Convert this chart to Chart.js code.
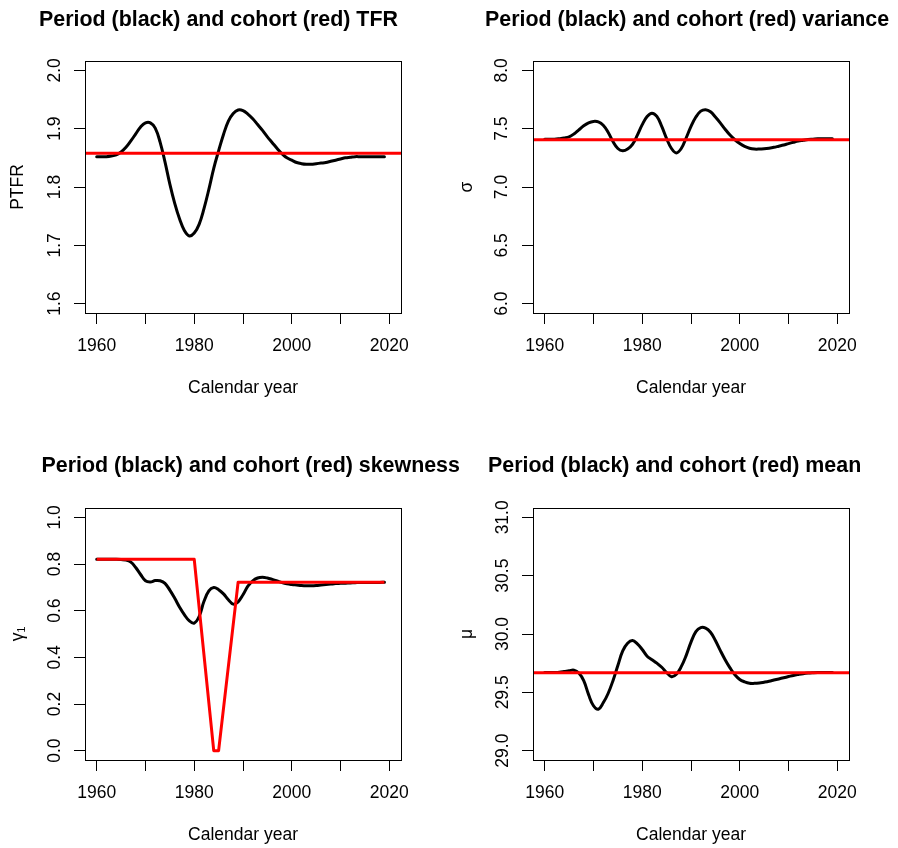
<!DOCTYPE html>
<html>
<head>
<meta charset="utf-8">
<script src="https://cdn.jsdelivr.net/npm/chart.js@4.4.1/dist/chart.umd.min.js"></script>
<style>
  html, body { margin: 0; padding: 0; background: #fff; overflow: hidden; }
  #fig { position: relative; width: 898px; height: 848px; }
  #fig canvas { position: absolute; }
  .main {
    position: absolute;
    font: bold 21.4px "Liberation Sans", Arial, Helvetica, sans-serif;
    line-height: 1;
    white-space: nowrap;
    color: #000;
  }
</style>
</head>
<body>
<div id="fig">
  <canvas id="tfr" width="449" height="424" style="left:0;top:0"></canvas>
  <canvas id="variance" width="449" height="424" style="left:449px;top:0"></canvas>
  <canvas id="skewness" width="449" height="424" style="left:0;top:424px"></canvas>
  <canvas id="mean" width="449" height="424" style="left:449px;top:424px"></canvas>
  <div class="main" style="left:39px;top:8.5px">Period (black) and cohort (red) TFR</div>
  <div class="main" style="left:485px;top:8.5px">Period (black) and cohort (red) variance</div>
  <div class="main" style="left:41.5px;top:455px">Period (black) and cohort (red) skewness</div>
  <div class="main" style="left:488px;top:455px">Period (black) and cohort (red) mean</div>
</div>
<script>
// calendar years of the period series
const YEARS = Array.from({ length: 60 }, (_, i) => 1960 + i);

const X_TICKS = [1960, 1970, 1980, 1990, 2000, 2010, 2020];
const X_LABELS = [1960, 1980, 2000, 2020];

// period TFR
const TFR_PERIOD = [
  1.852, 1.852, 1.852, 1.853, 1.855, 1.860, 1.868, 1.879, 1.891, 1.903,
  1.910, 1.910, 1.901, 1.877, 1.843, 1.805, 1.772, 1.745, 1.725, 1.716,
  1.721, 1.736, 1.763, 1.796, 1.832, 1.862, 1.890, 1.913, 1.926, 1.932,
  1.931, 1.925, 1.917, 1.907, 1.897, 1.886, 1.876, 1.866, 1.857, 1.850,
  1.846, 1.842, 1.840, 1.839, 1.839, 1.840, 1.841, 1.842, 1.844, 1.846,
  1.848, 1.850, 1.851, 1.852, 1.852, 1.852, 1.852, 1.852, 1.852, 1.852
];
const TFR_COHORT = 1.858;
const TFR_TICKS = [1.6, 1.7, 1.8, 1.9, 2.0];

// period sigma
const VAR_PERIOD = [
  7.410, 7.410, 7.410, 7.414, 7.420, 7.430, 7.455, 7.490, 7.525, 7.550,
  7.562, 7.558, 7.530, 7.470, 7.390, 7.330, 7.310, 7.325, 7.365, 7.445,
  7.535, 7.605, 7.633, 7.605, 7.520, 7.415, 7.330, 7.292, 7.330, 7.420,
  7.520, 7.600, 7.650, 7.663, 7.645, 7.600, 7.550, 7.495, 7.445, 7.405,
  7.373, 7.348, 7.332, 7.325, 7.325, 7.328, 7.333, 7.340, 7.350, 7.360,
  7.372, 7.383, 7.393, 7.400, 7.407, 7.410, 7.413, 7.414, 7.414, 7.414
];
const VAR_COHORT = 7.405;
const VAR_TICKS = [6.0, 6.5, 7.0, 7.5, 8.0];

// period skewness and the cohort skewness break points
const SKEW_PERIOD = [
  0.820, 0.820, 0.820, 0.820, 0.820, 0.819, 0.817, 0.808, 0.785, 0.755,
  0.728, 0.723, 0.729, 0.728, 0.717, 0.688, 0.653, 0.615, 0.582, 0.556,
  0.547, 0.575, 0.640, 0.685, 0.699, 0.690, 0.672, 0.647, 0.628, 0.638,
  0.668, 0.705, 0.728, 0.740, 0.743, 0.740, 0.734, 0.727, 0.720, 0.715,
  0.712, 0.710, 0.708, 0.707, 0.707, 0.708, 0.710, 0.712, 0.714, 0.716,
  0.717, 0.718, 0.719, 0.720, 0.721, 0.721, 0.721, 0.721, 0.721, 0.722
];
const SKEW_COHORT_YEARS = [1960, 1980, 1984, 1985, 1989, 2019];
const SKEW_COHORT = [0.820, 0.820, 0.0, 0.0, 0.722, 0.722];
const SKEW_TICKS = [0.0, 0.2, 0.4, 0.6, 0.8, 1.0];

// period mean age
const MEAN_PERIOD = [
  29.670, 29.670, 29.670, 29.672, 29.678, 29.685, 29.690, 29.665, 29.600, 29.480,
  29.385, 29.355, 29.410, 29.490, 29.600, 29.730, 29.855, 29.920, 29.944, 29.915,
  29.867, 29.810, 29.780, 29.750, 29.715, 29.670, 29.634, 29.655, 29.720, 29.815,
  29.930, 30.020, 30.055, 30.050, 30.015, 29.945, 29.860, 29.780, 29.710, 29.650,
  29.610, 29.590, 29.578, 29.577, 29.580, 29.587, 29.595, 29.605, 29.615, 29.625,
  29.635, 29.645, 29.653, 29.660, 29.665, 29.668, 29.670, 29.670, 29.670, 29.670
];
const MEAN_COHORT = 29.668;
const MEAN_TICKS = [29.0, 29.5, 30.0, 30.5, 31.0];

const W = 449, H = 424;
const FONT_SIZE = 17.5;

// base-graphics style axis range: 4% beyond the data range on each side
function padRange(lo, hi) {
  const ext = 0.04 * (hi - lo);
  return [lo - ext, hi + ext];
}
const XLIM = padRange(1960, 2020);

Chart.defaults.font.family = '"Liberation Sans", Arial, Helvetica, sans-serif';
Chart.defaults.color = '#000';

// closes the box around the plotting region
const frame = {
  id: 'frame',
  afterDraw(chart) {
    const { ctx, chartArea: a } = chart;
    ctx.save();
    ctx.strokeStyle = '#000';
    ctx.lineWidth = 1;
    ctx.strokeRect(Math.round(a.left) + 0.5, Math.round(a.top) + 0.5,
      Math.round(a.right - a.left), Math.round(a.bottom - a.top));
    ctx.restore();
  }
};

function points(xs, ys) {
  return xs.map((x, i) => ({ x, y: ys[i] }));
}

function hline(v) {
  return [{ x: XLIM[0], y: v }, { x: XLIM[1], y: v }];
}

function makePanel(id, o) {
  const [ymin, ymax] = padRange(o.yTicks[0], o.yTicks[o.yTicks.length - 1]);
  const axisGrid = { drawOnChartArea: false, tickLength: 11, color: '#000', lineWidth: 1 };
  const axisBorder = { color: '#000', width: 1 };

  return new Chart(document.getElementById(id), {
    type: 'line',
    data: {
      datasets: [
        {
          data: o.cohort,
          borderColor: '#ff0000',
          borderWidth: 3,
          tension: 0,
          pointRadius: 0,
          borderJoinStyle: 'round'
        },
        {
          data: points(YEARS, o.period),
          borderColor: '#000000',
          borderWidth: 3,
          tension: 0.4,
          pointRadius: 0,
          borderCapStyle: 'round',
          borderJoinStyle: 'round'
        }
      ]
    },
    options: {
      responsive: false,
      animation: false,
      devicePixelRatio: 1,
      events: [],
      layout: { padding: { top: o.area.top, right: W - o.area.right, bottom: 0, left: 0 } },
      plugins: { legend: { display: false }, tooltip: { enabled: false } },
      scales: {
        x: {
          type: 'linear',
          min: XLIM[0],
          max: XLIM[1],
          afterBuildTicks: s => { s.ticks = X_TICKS.map(v => ({ value: v })); },
          afterFit: s => { s.height = H - o.area.bottom; },
          ticks: {
            autoSkip: false,
            maxRotation: 0,
            padding: 11.5,
            font: { size: FONT_SIZE },
            callback: v => (X_LABELS.includes(v) ? String(v) : '')
          },
          grid: axisGrid,
          border: axisBorder,
          title: {
            display: true,
            text: 'Calendar year',
            font: { size: FONT_SIZE },
            padding: { top: 0, bottom: o.xTitlePad }
          }
        },
        y: {
          type: 'linear',
          min: ymin,
          max: ymax,
          afterBuildTicks: s => { s.ticks = o.yTicks.map(v => ({ value: v })); },
          afterFit: s => { s.width = o.area.left; },
          ticks: {
            minRotation: 90,
            maxRotation: 90,
            crossAlign: 'center',
            padding: o.yPad,
            font: { size: FONT_SIZE },
            callback: v => v.toFixed(1)
          },
          grid: axisGrid,
          border: axisBorder,
          title: {
            display: true,
            text: o.yTitle,
            font: { size: FONT_SIZE },
            padding: { top: 8, bottom: 0 }
          }
        }
      }
    },
    plugins: [frame]
  });
}

const TOP_AREA = { top: 61, bottom: 313 };
const BOTTOM_AREA = { top: 84, bottom: 336 };

makePanel('tfr', {
  period: TFR_PERIOD, cohort: hline(TFR_COHORT), yTicks: TFR_TICKS, yTitle: 'PTFR',
  area: { ...TOP_AREA, left: 85, right: 401 }, yPad: 7, xTitlePad: 25.5
});
makePanel('variance', {
  period: VAR_PERIOD, cohort: hline(VAR_COHORT), yTicks: VAR_TICKS, yTitle: 'σ',
  area: { ...TOP_AREA, left: 84, right: 400 }, yPad: 7.5, xTitlePad: 25.5
});
makePanel('skewness', {
  period: SKEW_PERIOD, cohort: points(SKEW_COHORT_YEARS, SKEW_COHORT), yTicks: SKEW_TICKS, yTitle: 'γ₁',
  area: { ...BOTTOM_AREA, left: 85, right: 401 }, yPad: 7, xTitlePad: 2
});
makePanel('mean', {
  period: MEAN_PERIOD, cohort: hline(MEAN_COHORT), yTicks: MEAN_TICKS, yTitle: 'μ',
  area: { ...BOTTOM_AREA, left: 84, right: 400 }, yPad: 2, xTitlePad: 2
});
</script>
</body>
</html>
